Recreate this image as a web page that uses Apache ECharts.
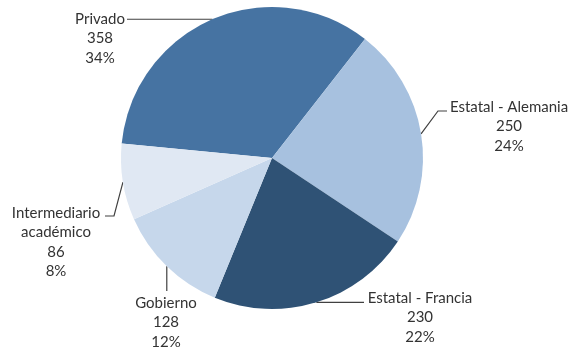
<!DOCTYPE html>
<html>
<head>
<meta charset="utf-8">
<script src="https://cdn.jsdelivr.net/npm/echarts@6/dist/echarts.min.js"></script>
<style>
html,body{margin:0;padding:0;background:#fff;}
#chart{width:575px;height:356px;}
</style>
</head>
<body>
<div id="chart"></div>
<script>
// Categories and their counts
const categories = ['Privado', 'Estatal - Alemania', 'Estatal - Francia', 'Gobierno', 'Intermediario\nacadémico'];
const values = [358, 250, 230, 128, 86];
const colors = ['#4673A2', '#A7C1DF', '#2F5275', '#C6D7EB', '#E0E8F3'];

// Label block placement: centre x, top y
const labelPos = [
  { x: 100, y: 9 },
  { x: 509, y: 97 },
  { x: 420, y: 288 },
  { x: 166, y: 293 },
  { x: 56, y: 203 }
];

// Leader line routing after leaving the slice edge
function leaderPoints(i, e) {
  switch (i) {
    case 0: return [e, [170, e[1]], [127, e[1]]];
    case 1: return [e, [438, 111], [447, 111]];
    case 2: return [e, [340, e[1]], [364, e[1]]];
    case 3: return [e, [e[0], 280], [e[0], 291]];
    default: return [e, [114, 216], [105, 216]];
  }
}

const total = values.reduce((a, b) => a + b, 0);

const chart = echarts.init(document.getElementById('chart'), null, { renderer: 'canvas' });
chart.setOption({
  animation: false,
  series: [{
    type: 'pie',
    center: [272, 158],
    radius: 151,
    startAngle: 174.5,
    clockwise: true,
    avoidLabelOverlap: false,
    data: categories.map((c, i) => ({ name: c, value: values[i], itemStyle: { color: colors[i] } })),
    itemStyle: { borderWidth: 0 },
    label: {
      show: true,
      position: 'outside',
      fontFamily: 'Lato',
      fontSize: 15,
      lineHeight: 19.5,
      color: '#333333',
      formatter: p => p.name + '\n' + p.value + '\n' + Math.round(p.value / total * 100) + '%'
    },
    labelLine: {
      show: true,
      length: 10,
      length2: 10,
      lineStyle: { color: '#404040', width: 1.2 }
    },
    labelLayout: function (params) {
      const p = labelPos[params.dataIndex];
      const edge = params.labelLinePoints[0];
      return {
        x: p.x,
        y: p.y,
        align: 'center',
        verticalAlign: 'top',
        labelLinePoints: leaderPoints(params.dataIndex, edge)
      };
    }
  }]
});
</script>
</body>
</html>
